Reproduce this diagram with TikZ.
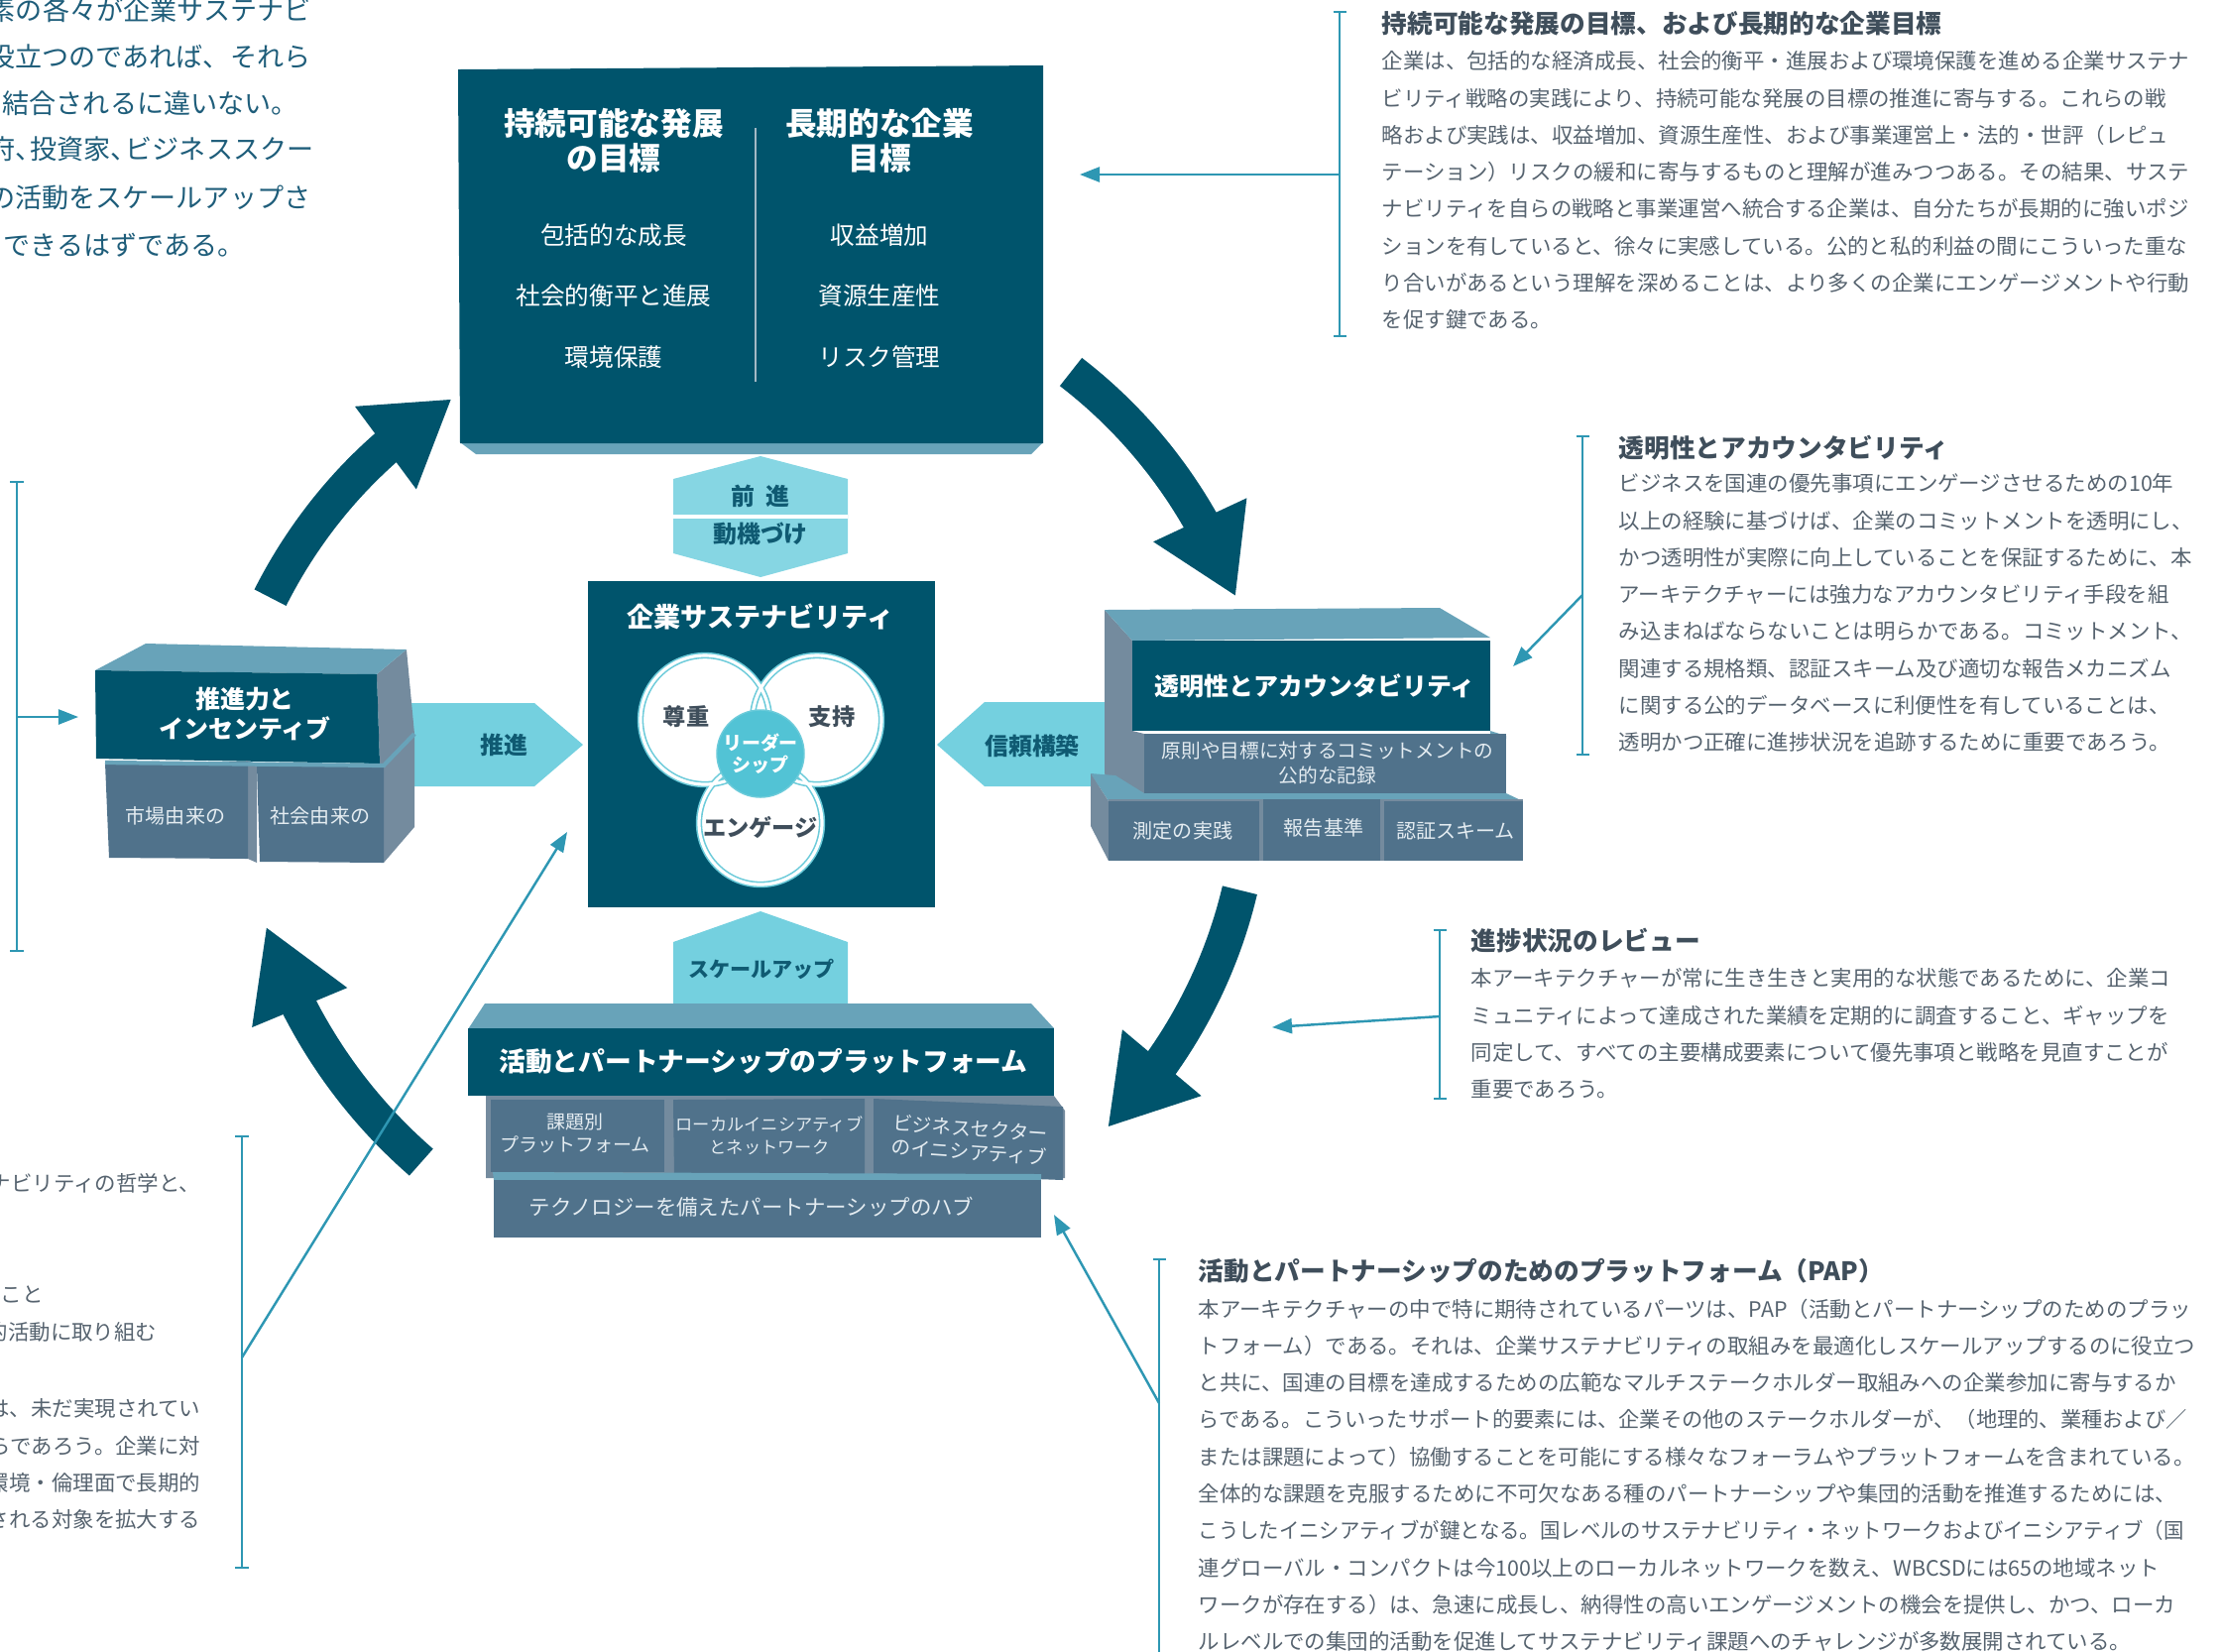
\documentclass[tikz,border=0pt]{standalone}
\usepackage{fontspec}
\usepackage{graphicx}
\setmainfont{Noto Sans CJK JP}
\usetikzlibrary{arrows.meta, calc}

\definecolor{darkteal}{HTML}{00546C}
\definecolor{topblue}{HTML}{68A3B9}
\definecolor{sidegray}{HTML}{748B9E}
\definecolor{lowblue}{HTML}{50728B}
\definecolor{cyanarr}{HTML}{74D0DF}
\definecolor{hexcyan}{HTML}{86D6E3}
\definecolor{leadcol}{HTML}{2E97B3}
\definecolor{bodycol}{HTML}{56636F}
\definecolor{headcol}{HTML}{3F4E5B}
\definecolor{tlcol}{HTML}{1E5D7A}
\definecolor{labcol}{HTML}{0F5A72}
\definecolor{venncol}{HTML}{6CCBDA}
\definecolor{leadfill}{HTML}{52C3D5}
\definecolor{palecol}{HTML}{E4ECF1}
\definecolor{divcol}{HTML}{A3B9C5}

\newcommand\fsz[2]{\fontsize{#1}{#2}\selectfont}

\tikzset{
  facedark/.style={fill=darkteal},
  facetop/.style={fill=topblue},
  faceside/.style={fill=sidegray},
  facelow/.style={fill=lowblue},
  flowarrow/.style={fill=cyanarr},
  leader/.style={draw=leadcol, line width=0.7pt},
  bracket/.style={leader, {Bar[width=1.3mm]}-{Bar[width=1.3mm]}},
  pointer/.style={leader, -{Triangle[length=2mm, width=1.5mm]}},
  boxhead/.style={text=white, align=center, font=\fsz{9}{10}\bfseries},
  boxitem/.style={text=white, font=\fsz{7}{8}},
  boxtitle/.style={text=white, align=center, font=\fsz{7.1}{8.5}\bfseries},
  sublabel/.style={text=palecol, align=center, inner sep=0, font=\fsz{5.7}{7.1}},
  flowlabel/.style={text=labcol, font=\fsz{6.8}{8}\bfseries},
  vennlabel/.style={text=headcol, font=\fsz{6.6}{8}\bfseries},
  vennring/.style={draw=venncol, line width=0.45pt, double=white, double distance=0.9pt},
  sidehead/.style={anchor=west, inner sep=0, text=headcol, font=\fsz{7.3}{9}\bfseries},
  sidebody/.style={anchor=north west, inner sep=0, align=left, text=bodycol, font=\fsz{6.1}{10.6}},
  cutline/.style={inner sep=0, text=bodycol, font=\fsz{6.1}{8}},
  introline/.style={inner sep=0, text=tlcol, font=\fsz{7.7}{9}},
}

\begin{document}
\begin{tikzpicture}[x=0.01cm, y=-0.01cm]
\useasboundingbox (0,0) rectangle (2241,1665);

% cycle arrows
\foreach \ta/\tb/\ra/\rb in {198.7/229.6/522/482, 308.4/340.5/504/508, 14.8/46.2/500/507, 130.4/161.6/528/525}{
  \pgfmathsetmacro\tc{\tb-9.5}
  \pgfmathsetmacro\td{\tc+0.6}
  \pgfmathsetmacro\rc{\ra+(\rb-\ra)*(\tc-\ta)/(\tb-\ta)}
  \draw[darkteal, line width=0.36cm] plot[domain=\ta:\td, samples=24, variable=\t]
    ({767+(\ra+(\rb-\ra)*(\t-\ta)/(\tb-\ta))*cos(\t)}, {770+(\ra+(\rb-\ra)*(\t-\ta)/(\tb-\ta))*sin(\t)});
  \coordinate (cyctip) at ({767+\rb*cos(\tb)}, {770+\rb*sin(\tb)});
  \coordinate (cycbase) at ({767+\rc*cos(\tc)}, {770+\rc*sin(\tc)});
  \fill[darkteal] (cyctip) -- ($(cycbase)!0.52cm!90:(cyctip)$) -- ($(cycbase)!0.52cm!-90:(cyctip)$) -- cycle;
}

% flow arrows
\fill[hexcyan] (767,460) -- (855,483) -- (855,558) -- (767,582) -- (679,558) -- (679,483) -- cycle;
\draw[white, line width=1.2pt] (679,521) -- (855,521);
\fill[flowarrow] (410,709) -- (539,709) -- (588,751) -- (539,793) -- (410,793) -- cycle;
\fill[flowarrow] (1126,708) -- (993,708) -- (945,751) -- (993,793) -- (1126,793) -- cycle;
\fill[flowarrow] (679,1014) -- (679,950) -- (767,919) -- (855,950) -- (855,1014) -- cycle;

% goals box
\fill[facetop] (464,446) -- (1052,446) -- (1040,458) -- (480,458) -- cycle;
\fill[facedark] (462,70) -- (1052,66) -- (1052,447) -- (464,447) -- cycle;
\draw[divcol, line width=0.8pt] (762,129) -- (762,385);
\node[boxhead] (sdghead) at (619,142) {持続可能な発展\\の目標};
\node[boxhead] (bizhead) at (887,142) {長期的な企業\\目標};
\node[boxitem] (sdg1) at (619,237) {包括的な成長};
\node[boxitem] (sdg2) at (619,298) {社会的衡平と進展};
\node[boxitem] (sdg3) at (619,360) {環境保護};
\node[boxitem] (biz1) at (887,237) {収益増加};
\node[boxitem] (biz2) at (887,298) {資源生産性};
\node[boxitem] (biz3) at (887,360) {リスク管理};
\node[flowlabel] (advance) at (767,500) {前\kern.5em 進};
\node[flowlabel] (motive) at (767,538) {動機づけ};

% core box
\fill[facedark] (593,586) rectangle (943,915);
\node[boxtitle, font=\fsz{7.7}{9}\bfseries] (coretitle) at (767,622) {企業サステナビリティ};
\fill[white] (711,726) circle[radius=65] (824,726) circle[radius=65] (767,830) circle[radius=62];
\draw[vennring] (711,726) circle[radius=65] (824,726) circle[radius=65] (767,830) circle[radius=62];
\node[circle, fill=leadfill, draw=venncol, minimum size=0.88cm, inner sep=0, align=center,
  text=white, font=\fsz{5.4}{6.4}\bfseries] (lead) at (767,760) {リーダー\\シップ};
\node[vennlabel] (respect) at (692,723) {尊重};
\node[vennlabel] (support) at (839,723) {支持};
\node[vennlabel] (engage) at (767,834) {エンゲージ};

% drivers box
\fill[faceside] (380,680) -- (410,655) -- (418,740) -- (418,834) -- (387,870) -- (383,770) -- cycle;
\fill[facetop] (96,676) -- (147,649) -- (410,655) -- (380,680) -- cycle;
\fill[facedark] (96,676) -- (380,680) -- (383,770) -- (97,765) -- cycle;
\fill[faceside] (248,767) -- (259,770) -- (259,870) -- (250,866) -- cycle;
\fill[facelow] (106,769) -- (250,768) -- (250,866) -- (110,865) -- cycle;
\fill[facelow] (259,772) -- (387,772) -- (387,870) -- (262,869) -- cycle;
\draw[topblue, line width=1.2pt] (106,769) -- (387,772) -- (418,740);
\node[boxtitle] (drivetitle) at (247,720) {推進力と\\インセンティブ};
\node[sublabel] (market) at (177,823) {市場由来の};
\node[sublabel] (social) at (323,823) {社会由来の};
\node[flowlabel] (pushlabel) at (508,751) {推進};

% transparency box
\fill[faceside] (1114,615) -- (1142,646) -- (1142,737) -- (1154,740) -- (1154,800) -- (1126,800) -- (1114,780) -- cycle;
\fill[facetop] (1114,615) -- (1452,613) -- (1503,643) -- (1142,646) -- cycle;
\fill[facedark] (1142,646) rectangle (1503,737);
\fill[facetop] (1503,737) -- (1519,742) -- (1519,745) -- (1503,740) -- cycle;
\fill[facelow] (1154,740) rectangle (1519,800);
\fill[facetop] (1100,780) -- (1125,782) -- (1154,800) -- (1519,800) -- (1536,808) -- (1118,808) -- cycle;
\fill[faceside] (1100,780) -- (1118,808) -- (1118,868) -- (1100,833) -- cycle;
\fill[faceside] (1118,806) rectangle (1536,868);
\fill[facelow] (1118,808) rectangle (1270,868);
\fill[facelow] (1274,806) rectangle (1392,868);
\fill[facelow] (1396,808) rectangle (1536,868);
\node[boxtitle] (transtitle) at (1326,692) {透明性とアカウンタビリティ};
\node[sublabel, font=\fsz{5.6}{7.1}] (record) at (1339,770) {原則や目標に対するコミットメントの\\公的な記録};
\node[sublabel] (measure) at (1193,838) {測定の実践};
\node[sublabel] (report) at (1335,835) {報告基準};
\node[sublabel] (certify) at (1468,838) {認証スキーム};
\node[flowlabel] (trustlabel) at (1041,752) {信頼構築};

% platform box
\fill[facetop] (472,1038) -- (489,1012) -- (1040,1012) -- (1063,1037) -- cycle;
\fill[facedark] (472,1037) rectangle (1063,1105);
\fill[faceside] (490,1105) -- (1063,1105) -- (1074,1120) -- (1074,1188) -- (490,1188) -- cycle;
\fill[facelow] (495,1109) rectangle (670,1182);
\fill[facelow] (679,1109) -- (872,1108) -- (872,1185) -- (680,1186) -- cycle;
\fill[facelow] (881,1108) -- (1072,1116) -- (1072,1190) -- (881,1183) -- cycle;
\fill[facetop] (497,1182) -- (1050,1184) -- (1050,1190) -- (498,1190) -- cycle;
\fill[facelow] (498,1190) rectangle (1050,1248);
\node[boxtitle, font=\fsz{7.6}{9}\bfseries] (paptitle) at (770,1070) {活動とパートナーシップのプラットフォーム};
\node[sublabel, font=\fsz{5.4}{6.6}] (topic) at (580,1143) {課題別\\プラットフォーム};
\node[sublabel, font=\fsz{4.9}{6.6}] (local) at (776,1145) {ローカルイニシアティブ\\とネットワーク};
\node[sublabel, font=\fsz{5.6}{6.8}, rotate=-4] (sector) at (978,1150) {ビジネスセクター\\のイニシアティブ};
\node[sublabel, font=\fsz{6.1}{7}] (hub) at (758,1217) {テクノロジーを備えたパートナーシップのハブ};
\node[flowlabel, font=\fsz{6}{7}\bfseries] (scalelabel) at (768,977) {スケールアップ};

% intro text, top left
\node[introline, anchor=east] (intro1) at (314,10) {素の各々が企業サステナビ};
\node[introline, anchor=east] (intro2) at (314,57) {役立つのであれば、それら};
\node[introline, anchor=west] (intro3) at (2,104) {結合されるに違いない。};
\node[introline, anchor=west] (intro4) at (-12,150) {府、\kern-.45em 投資家、\kern-.45em ビジネススクー};
\node[introline, anchor=east] (intro5) at (314,199) {の活動をスケールアップさ};
\node[introline, anchor=west] (intro6) at (3,247) {できるはずである。};

% cut text, bottom left
\node[cutline, anchor=east] (cut1) at (203,1193) {ナビリティの哲学と、};
\node[cutline, anchor=west] (cut2) at (0,1305) {こと};
\node[cutline, anchor=west] (cut3) at (-14,1343) {的活動に取り組む};
\node[cutline, anchor=east] (cut4) at (203,1420) {は、未だ実現されてい};
\node[cutline, anchor=east] (cut5) at (203,1458) {らであろう。企業に対};
\node[cutline, anchor=east] (cut6) at (203,1495) {環境・倫理面で長期的};
\node[cutline, anchor=east] (cut7) at (203,1532) {される対象を拡大する};

% side notes
\node[sidehead] (goalnotehead) at (1393,24) {持続可能な発展の目標、および長期的な企業目標};
\node[sidebody] (goalnote) at (1393,51) {企業は、包括的な経済成長、社会的衡平・進展および環境保護を進める企業サステナ\\
ビリティ戦略の実践により、持続可能な発展の目標の推進に寄与する。これらの戦\\
略および実践は、収益増加、資源生産性、および事業運営上・法的・世評（レピュ\\
テーション）リスクの緩和に寄与するものと理解が進みつつある。その結果、サステ\\
ナビリティを自らの戦略と事業運営へ統合する企業は、自分たちが長期的に強いポジ\\
ションを有していると、徐々に実感している。公的と私的利益の間にこういった重な\\
り合いがあるという理解を深めることは、より多くの企業にエンゲージメントや行動\\
を促す鍵である。};

\node[sidehead] (transnotehead) at (1632,452) {透明性とアカウンタビリティ};
\node[sidebody] (transnote) at (1632,477) {ビジネスを国連の優先事項にエンゲージさせるための10年\\
以上の経験に基づけば、企業のコミットメントを透明にし、\\
かつ透明性が実際に向上していることを保証するために、本\\
アーキテクチャーには強力なアカウンタビリティ手段を組\\
み込まねばならないことは明らかである。コミットメント、\\
関連する規格類、認証スキーム及び適切な報告メカニズム\\
に関する公的データベースに利便性を有していることは、\\
透明かつ正確に進捗状況を追跡するために重要であろう。};

\node[sidehead] (reviewnotehead) at (1483,949) {進捗状況のレビュー};
\node[sidebody] (reviewnote) at (1483,976) {本アーキテクチャーが常に生き生きと実用的な状態であるために、企業コ\\
ミュニティによって達成された業績を定期的に調査すること、ギャップを\\
同定して、すべての主要構成要素について優先事項と戦略を見直すことが\\
重要であろう。};

\node[sidehead] (papnotehead) at (1208,1282) {活動とパートナーシップのためのプラットフォーム（PAP）};
\node[sidebody] (papnote) at (1208,1309) {本アーキテクチャーの中で特に期待されているパーツは、PAP（活動とパートナーシップのためのプラッ\\
トフォーム）である。それは、企業サステナビリティの取組みを最適化しスケールアップするのに役立つ\\
と共に、国連の目標を達成するための広範なマルチステークホルダー取組みへの企業参加に寄与するか\\
\scalebox{0.99}[1]{らである。こういったサポート的要素には、企業その他のステークホルダーが、（地理的、業種および／}\\
または課題によって）協働することを可能にする様々なフォーラムやプラットフォームを含まれている。\\
全体的な課題を克服するために不可欠なある種のパートナーシップや集団的活動を推進するためには、\\
\scalebox{0.95}[1]{こうしたイニシアティブが鍵となる。国レベルのサステナビリティ・ネットワークおよびイニシアティブ（国}\\
連グローバル・コンパクトは今100以上のローカルネットワークを数え、WBCSDには65の地域ネット\\
ワークが存在する）は、急速に成長し、納得性の高いエンゲージメントの機会を提供し、かつ、ローカ\\
ルレベルでの集団的活動を促進してサステナビリティ課題へのチャレンジが多数展開されている。};

% leaders
\coordinate (goaltop) at (1351,11); \coordinate (goalbot) at (1351,340);
\coordinate (goalmid) at (1351,176); \coordinate (goaltip) at (1089,176);
\coordinate (transtop) at (1596,439); \coordinate (transbot) at (1596,762);
\coordinate (transmid) at (1596,600); \coordinate (transtip) at (1526,672);
\coordinate (reviewtop) at (1452,937); \coordinate (reviewbot) at (1452,1109);
\coordinate (reviewmid) at (1452,1025); \coordinate (reviewtip) at (1283,1036);
\coordinate (paptop) at (1169,1269); \coordinate (papbot) at (1169,1680);
\coordinate (papmid) at (1169,1415); \coordinate (paptip) at (1063,1225);
\coordinate (drivetop) at (17,485); \coordinate (drivebot) at (17,960);
\coordinate (drivemid) at (17,723); \coordinate (drivetip) at (79,723);
\coordinate (cuttop) at (244,1145); \coordinate (cutbot) at (244,1582);
\coordinate (cutmid) at (244,1369); \coordinate (cuttip) at (572,839);
\draw[bracket] (goaltop) -- (goalbot);
\draw[pointer] (goalmid) -- (goaltip);
\draw[bracket] (transtop) -- (transbot);
\draw[pointer] (transmid) -- (transtip);
\draw[bracket] (reviewtop) -- (reviewbot);
\draw[pointer] (reviewmid) -- (reviewtip);
\draw[bracket] (paptop) -- (papbot);
\draw[pointer] (papmid) -- (paptip);
\draw[bracket] (drivetop) -- (drivebot);
\draw[pointer] (drivemid) -- (drivetip);
\draw[bracket] (cuttop) -- (cutbot);
\draw[pointer] (cutmid) -- (cuttip);
\end{tikzpicture}
\end{document}
